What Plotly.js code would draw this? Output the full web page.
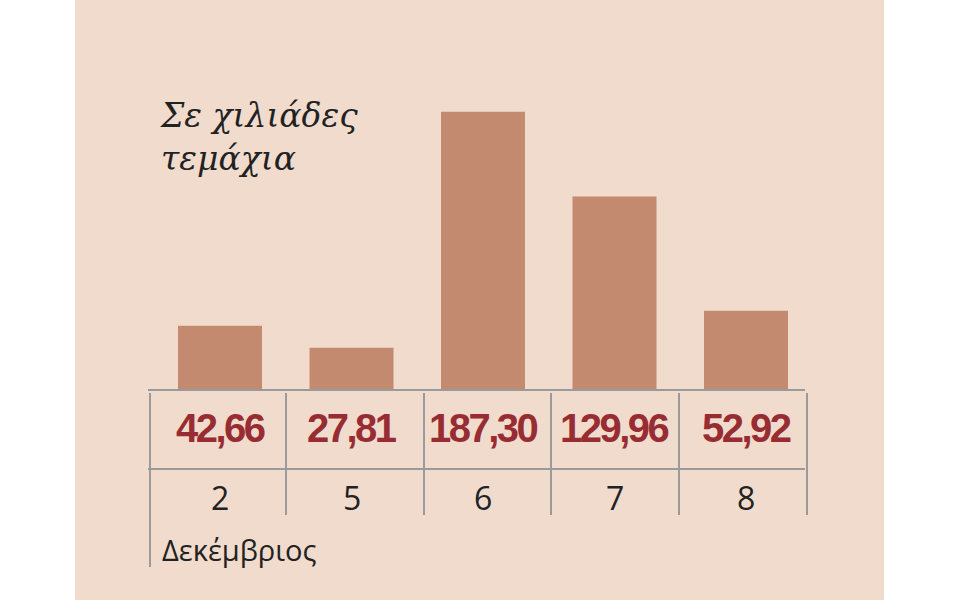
<!DOCTYPE html>
<html>
<head>
<meta charset="utf-8">
<script src="https://cdn.plot.ly/plotly-3.0.1.min.js"></script>
<style>
html,body{margin:0;padding:0;background:#ffffff;}
#chart{width:960px;height:600px;}
</style>
</head>
<body>
<div id="chart"></div>
<script>
// ---- data ----
var days = ['2', '5', '6', '7', '8'];
var values = [42.66, 27.81, 187.30, 129.96, 52.92];
var titleLines = ['Σε χιλιάδες', 'τεμάχια'];
var monthLabel = 'Δεκέμβριος';

// ---- pixel layout helpers (full-canvas plot area) ----
var W = 960, H = 600;
var x0px = 220, xStep = 131.5;      // centre of first bar, spacing
var baseY = 389, yScale = 1.4805;   // baseline pixel, pixels per unit
function dx(px) { return (px - x0px) / xStep; }
function dy(py) { return (baseY - py) / yScale; }

var idx = days.map(function (d, i) { return i; });
var labels = values.map(function (v) { return v.toFixed(2).replace('.', ','); });

var lineCol = '#9a9a9a';
var shapes = [];
// panel background
shapes.push({type: 'rect', xref: 'paper', yref: 'paper', x0: 75 / W, x1: 884 / W, y0: 0, y1: 1,
  fillcolor: '#f1dbcc', line: {width: 0}, layer: 'below'});
// table horizontal lines
[390, 469].forEach(function (py) {
  shapes.push({type: 'line', x0: dx(148), x1: dx(805), y0: dy(py), y1: dy(py),
    line: {color: lineCol, width: 2}, layer: 'above'});
});
// table vertical lines
var vlines = [150, 286, 424, 551, 679, 807];
vlines.forEach(function (px, k) {
  shapes.push({type: 'line', x0: dx(px), x1: dx(px), y0: dy(393), y1: dy(k === 0 ? 567 : 515),
    line: {color: lineCol, width: 2}, layer: 'above'});
});

var annotations = [];
// value row
idx.forEach(function (i) {
  annotations.push({x: i, y: dy(428), xref: 'x', yref: 'y',
    text: '<span style="letter-spacing:-2.5px">' + labels[i] + '</span>',
    showarrow: false, xanchor: 'center', yanchor: 'middle',
    font: {family: 'Liberation Sans, Arial, sans-serif', size: 40, color: '#982c33', weight: 700}});
});
// day row
idx.forEach(function (i) {
  annotations.push({x: i, y: dy(497), xref: 'x', yref: 'y', text: days[i],
    showarrow: false, xanchor: 'center', yanchor: 'middle',
    font: {family: 'Open Sans, sans-serif', size: 32, color: '#222222'}});
});
// month label
annotations.push({x: dx(160), y: dy(549), xref: 'x', yref: 'y', text: monthLabel,
  showarrow: false, xanchor: 'left', yanchor: 'middle',
  font: {family: 'Open Sans, sans-serif', size: 29, color: '#222222'}});
// title
annotations.push({x: dx(158), y: dy(94), xref: 'x', yref: 'y', text: titleLines.join('<br>'),
  showarrow: false, xanchor: 'left', yanchor: 'top', align: 'left',
  font: {family: 'DejaVu Serif, serif', size: 33, color: '#222222', style: 'italic'}});

var trace = {
  type: 'bar', x: idx, y: values, width: 84 / xStep,
  marker: {color: '#c38a6f', line: {width: 0}},
  hoverinfo: 'skip'
};

var layout = {
  width: W, height: H,
  margin: {l: 0, r: 0, t: 0, b: 0},
  paper_bgcolor: '#ffffff', plot_bgcolor: 'rgba(0,0,0,0)',
  showlegend: false,
  xaxis: {range: [dx(0), dx(W)], visible: false, fixedrange: true},
  yaxis: {range: [dy(H), dy(0)], visible: false, fixedrange: true},
  shapes: shapes,
  annotations: annotations
};

Plotly.newPlot('chart', [trace], layout, {displayModeBar: false, staticPlot: true});
</script>
</body>
</html>
